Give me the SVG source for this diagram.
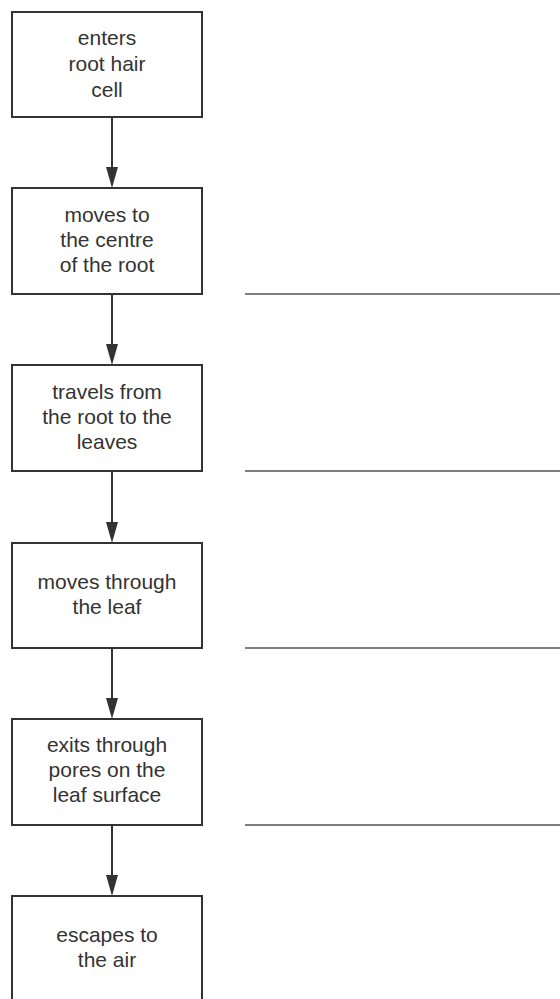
<svg xmlns="http://www.w3.org/2000/svg" width="560" height="999" viewBox="0 0 560 999">
<style>
.box{fill:#fff;stroke:#333;stroke-width:2}
.t{font-family:"Liberation Sans",Arial,sans-serif;font-size:21px;fill:#333;text-anchor:middle}
.c{stroke:#333;stroke-width:2;fill:none}
.ah{fill:#333}
.ans{stroke:#555;stroke-width:1.6}
</style>
<rect width="560" height="999" fill="#fff"/>
<g id="n1"><rect class="box" x="12" y="12" width="190" height="105"/><text class="t" x="107"><tspan x="107" y="45">enters</tspan><tspan x="107" y="71">root hair</tspan><tspan x="107" y="97">cell</tspan></text></g>
<g id="n2"><rect class="box" x="12" y="188" width="190" height="106"/><text class="t"><tspan x="107" y="222">moves to</tspan><tspan x="107" y="247">the centre</tspan><tspan x="107" y="272">of the root</tspan></text></g>
<g id="n3"><rect class="box" x="12" y="365" width="190" height="106"/><text class="t"><tspan x="107" y="399">travels from</tspan><tspan x="107" y="424">the root to the</tspan><tspan x="107" y="449">leaves</tspan></text></g>
<g id="n4"><rect class="box" x="12" y="543" width="190" height="105"/><text class="t"><tspan x="107" y="589">moves through</tspan><tspan x="107" y="614">the leaf</tspan></text></g>
<g id="n5"><rect class="box" x="12" y="719" width="190" height="106"/><text class="t"><tspan x="107" y="752">exits through</tspan><tspan x="107" y="777">pores on the</tspan><tspan x="107" y="802">leaf surface</tspan></text></g>
<g id="n6"><rect class="box" x="12" y="896" width="190" height="110"/><text class="t"><tspan x="107" y="942">escapes to</tspan><tspan x="107" y="967">the air</tspan></text></g>
<g id="connectors">
<line class="c" x1="112" y1="117" x2="112" y2="170"/><polygon class="ah" points="106,167 118,167 112,188"/>
<line class="c" x1="112" y1="294" x2="112" y2="347"/><polygon class="ah" points="106,344 118,344 112,365"/>
<line class="c" x1="112" y1="471" x2="112" y2="525"/><polygon class="ah" points="106,522 118,522 112,543"/>
<line class="c" x1="112" y1="648" x2="112" y2="701"/><polygon class="ah" points="106,698 118,698 112,719"/>
<line class="c" x1="112" y1="825" x2="112" y2="878"/><polygon class="ah" points="106,875 118,875 112,896"/>
</g>
<g id="answer-lines">
<line class="ans" x1="245" y1="294" x2="560" y2="294"/>
<line class="ans" x1="245" y1="471" x2="560" y2="471"/>
<line class="ans" x1="245" y1="648" x2="560" y2="648"/>
<line class="ans" x1="245" y1="825" x2="560" y2="825"/>
</g>
</svg>
